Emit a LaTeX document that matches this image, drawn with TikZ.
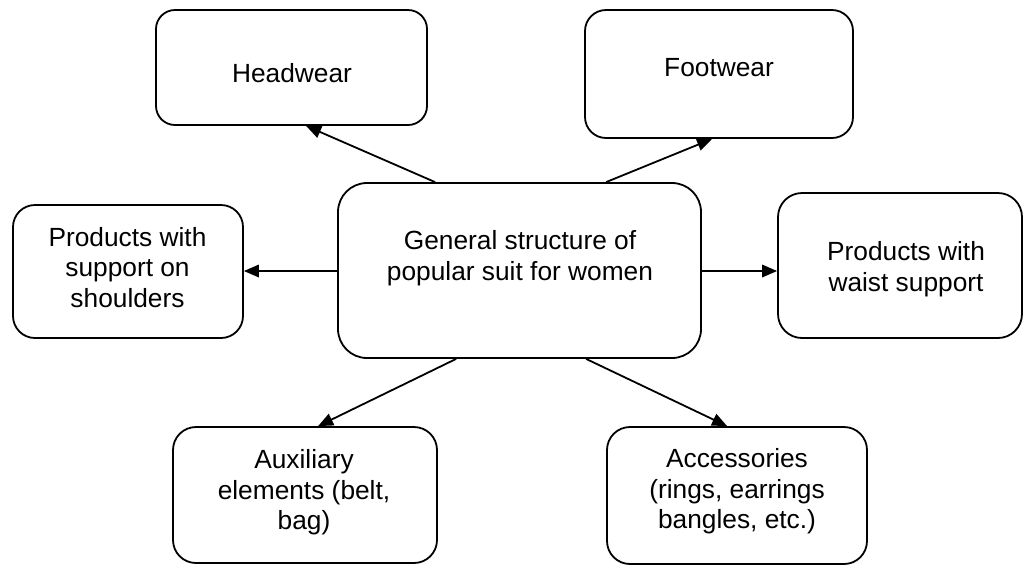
\documentclass[tikz,border=0pt]{standalone}
\usepackage{fontspec}
\setmainfont{Liberation Sans}
\usetikzlibrary{arrows.meta}
\tikzset{
  box/.style={draw=black, line width=1.8pt, inner sep=0pt, fill=white},
  lbl/.style={anchor=base, align=center, inner sep=0pt, font=\fontsize{26.3}{30.5}\selectfont},
  arr/.style={line width=1.8pt, -{Triangle[length=15pt,width=12.5pt]}}
}
\begin{document}
\begin{tikzpicture}[x=1pt,y=-1pt]
\useasboundingbox (0,0) rectangle (1024,566);
\fill[white] (0,0) rectangle (1024,566);
% boxes
\node[box, minimum width=271pt, minimum height=115pt, rounded corners=19pt] (hw) at (291.5,67.5) {};
\node[box, minimum width=268pt, minimum height=128pt, rounded corners=21pt] (fw) at (719,74) {};
\node[box, minimum width=363pt, minimum height=175pt, rounded corners=29pt] (c) at (519.5,270.5) {};
\node[box, minimum width=230pt, minimum height=133pt, rounded corners=22pt] (L) at (128,271.5) {};
\node[box, minimum width=244pt, minimum height=145pt, rounded corners=24pt] (R) at (900,265.5) {};
\node[box, minimum width=264pt, minimum height=136pt, rounded corners=23pt] (A) at (305,495) {};
\node[box, minimum width=260pt, minimum height=137pt, rounded corners=23pt] (B) at (737,495.5) {};
% texts (base anchor = baseline of the last line)
\node[lbl] (hwt) at (292,82) {Headwear};
\node[lbl] (fwt) at (719,76) {Footwear};
\node[lbl] (ct) at (520,280) {General structure of\\popular suit for women};
\node[lbl] (Lt) at (127.5,307) {Products with\\support on\\shoulders};
\node[lbl] (Rt) at (906,291) {Products with\\waist support};
\node[lbl] (At) at (304,529.5) {Auxiliary\\elements (belt,\\bag)};
\node[lbl] (Bt) at (737,528.5) {Accessories\\(rings, earrings\\bangles, etc.)};
% connectors
\draw[arr] ([xshift=98pt]c.north west) -- ([xshift=151pt]hw.south west);
\draw[arr] ([xshift=269pt]c.north west) -- ([xshift=128pt]fw.south west);
\draw[arr] ([yshift=-0.5pt]c.west) -- ([yshift=-0.5pt]c.west -| L.east);
\draw[arr] ([yshift=-0.5pt]c.east) -- ([yshift=-0.5pt]c.east -| R.west);
\draw[arr] ([xshift=119pt]c.south west) -- ([xshift=146pt]A.north west);
\draw[arr] ([xshift=249pt]c.south west) -- ([xshift=121pt]B.north west);
\end{tikzpicture}
\end{document}
